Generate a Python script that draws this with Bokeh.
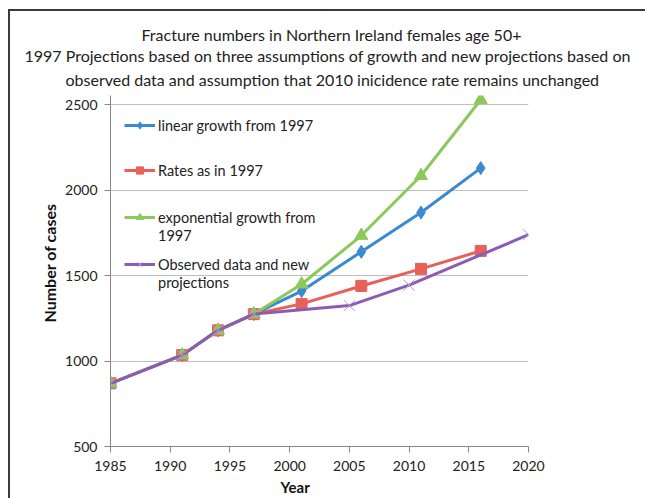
from bokeh.plotting import figure
from bokeh.models import (Title, Legend, LegendItem, FixedTicker, Range1d)
from bokeh.embed import file_html
from bokeh.resources import INLINE

# ---- data ----
proj_years = [1985, 1991, 1994, 1997, 2001, 2006, 2011, 2016]
linear_growth = [870, 1035, 1180, 1275, 1410, 1640, 1870, 2130]
rates_1997 = [870, 1035, 1180, 1275, 1335, 1440, 1540, 1645]
exp_growth = [870, 1035, 1180, 1275, 1450, 1735, 2085, 2530]
obs_years = [1985, 1991, 1994, 1997, 2005, 2010, 2020]
observed = [870, 1035, 1180, 1275, 1325, 1445, 1740]

x_ticks = [1985, 1990, 1995, 2000, 2005, 2010, 2015, 2020]
y_ticks = [500, 1000, 1500, 2000, 2500]

title_text = "Fracture  numbers in Northern Ireland females age 50+"
sub1 = "1997 Projections  based on three assumptions of growth and new projections based on"
sub2 = "observed data and assumption that 2010 inicidence rate remains unchanged"

FONT = "Lato"
BLUE = "#3A8AD2"
RED = "#E8605A"
GREEN = "#8CC85A"
PURPLE = "#8A5CB4"
PURPLE_X = "#B69FD4"

p = figure(width=637, height=489, output_backend="svg", toolbar_location=None,
           x_range=Range1d(1985, 2020), y_range=Range1d(500, 2555),
           min_border_left=102, min_border_right=117, min_border_top=86,
           min_border_bottom=52)
p.margin = (9, 0, 0, 8)
p.border_fill_alpha = 0
p.styles = {"box-shadow": "inset 2px 2px 0px 0px #3a3a3a"}
p.outline_line_color = None
p.background_fill_color = "white"

# titles: p.title is outermost, added titles stack toward the frame
p.title.text = title_text
p.title.text_font = FONT
p.title.text_font_size = "16px"
p.title.text_font_style = "normal"
p.title.text_color = "#222222"
p.title.align = "left"
p.title.offset = 14
p.title.standoff = 0
p.title.padding = (17, 0, 0, 0)
t2 = Title(text=sub2, text_font=FONT, text_font_size="16px", text_font_style="normal",
           text_color="#222222", align="left", offset=-45, standoff=10, vertical_align="top")
p.add_layout(t2, "above")
t1 = Title(text=sub1, text_font=FONT, text_font_size="16px", text_font_style="normal",
           text_color="#222222", align="left", offset=-86, standoff=0)
p.add_layout(t1, "above")

# axes
for ax in (p.xaxis[0], p.yaxis[0]):
    ax.axis_line_color = "#888888"
    ax.major_tick_line_color = "#888888"
    ax.major_tick_out = 6
    ax.major_tick_in = 0
    ax.minor_tick_line_color = None
    ax.major_label_text_font = FONT
    ax.major_label_text_font_size = "14px"
    ax.major_label_text_color = "#222222"
p.xaxis.ticker = FixedTicker(ticks=x_ticks)
p.yaxis.ticker = FixedTicker(ticks=y_ticks)
p.xaxis.major_label_standoff = 8
p.yaxis.major_label_standoff = 7

p.add_layout(Title(text="Year", text_font=FONT, text_font_size="15px", text_font_style="bold",
                   text_color="#111111", align="left", offset=170, standoff=4), "below")
p.add_layout(Title(text="Number of cases", text_font=FONT, text_font_size="16px",
                   text_font_style="bold", text_color="#111111", align="left",
                   offset=124, standoff=8), "left")

p.xgrid.grid_line_color = None
p.ygrid.grid_line_color = "#BEBEBE"
p.ygrid.grid_line_width = 1

# series
lb = p.line(proj_years, linear_growth, line_color=BLUE, line_width=3)
mb = p.scatter(proj_years, linear_growth, marker="diamond", size=13, fill_color=BLUE, line_color=BLUE)
lr = p.line(proj_years, rates_1997, line_color=RED, line_width=3)
mr = p.scatter(proj_years, rates_1997, marker="square", size=11, fill_color=RED, line_color=RED)
lg = p.line(proj_years, exp_growth, line_color=GREEN, line_width=3)
mg = p.scatter(proj_years, exp_growth, marker="triangle", size=13, fill_color=GREEN, line_color=GREEN)
lp = p.line(obs_years, observed, line_color=PURPLE, line_width=3)
mp = p.scatter(obs_years, observed, marker="x", size=16, line_color=PURPLE_X, line_width=1)

def make_legend(items, spacing, loc):
    lg_ = Legend(items=items, location=loc, spacing=spacing, padding=0, margin=0,
                 border_line_color=None, background_fill_alpha=0,
                 label_text_font=FONT, label_text_font_size="14.5px", label_text_color="#222222",
                 glyph_width=31, glyph_height=18, label_height=18, label_standoff=3)
    p.add_layout(lg_, "center")

make_legend([LegendItem(label="linear growth from 1997", renderers=[lb, mb]),
             LegendItem(label="Rates as in 1997", renderers=[lr, mr])], 27, (14, 267))
make_legend([LegendItem(label="exponential growth from", renderers=[lg, mg]),
             LegendItem(label="1997", renderers=[])], 0, (14, 202))
make_legend([LegendItem(label="Observed data and new", renderers=[lp, mp]),
             LegendItem(label="projections", renderers=[])], 0, (14, 155))

open("out.html", "w").write(file_html(p, INLINE))
